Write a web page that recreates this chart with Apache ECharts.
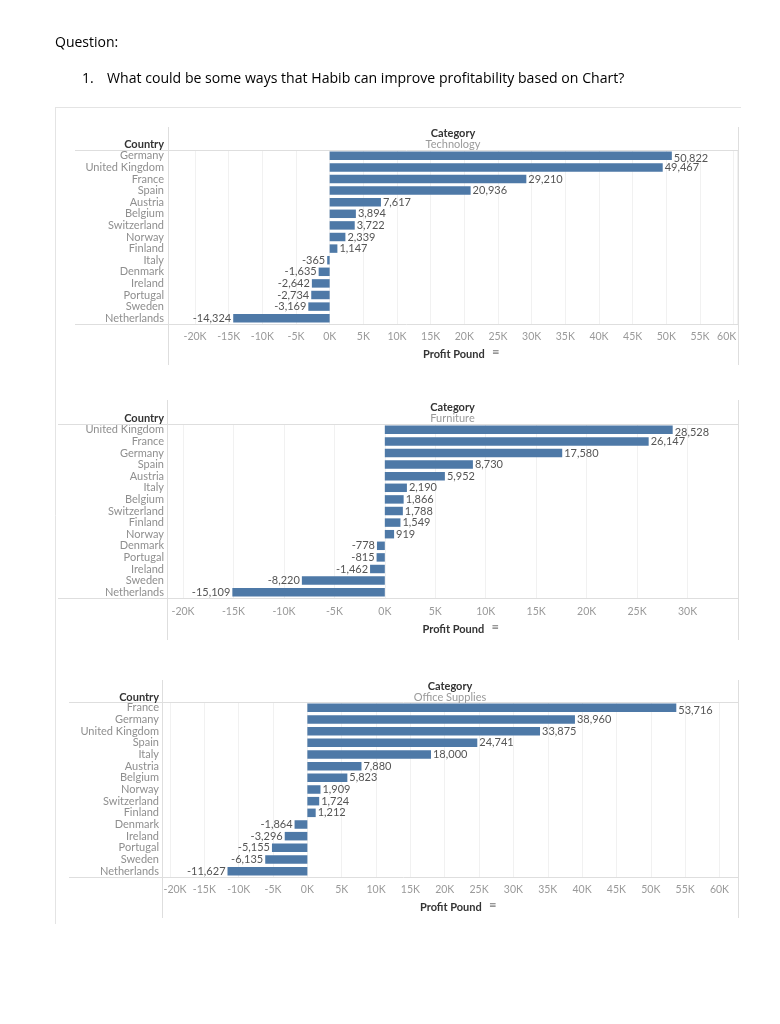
<!DOCTYPE html>
<html>
<head>
<meta charset="utf-8">
<script src="https://cdn.jsdelivr.net/npm/echarts@6/dist/echarts.min.js"></script>
<style>
html,body{margin:0;padding:0;background:#fff;}
#chart{width:780px;height:1024px;}
</style>
</head>
<body>
<div id="chart"></div>
<script>
// ---- data ----
var techCountries = ['Germany','United Kingdom','France','Spain','Austria','Belgium','Switzerland','Norway','Finland','Italy','Denmark','Ireland','Portugal','Sweden','Netherlands'];
var techProfit = [50822,49467,29210,20936,7617,3894,3722,2339,1147,-365,-1635,-2642,-2734,-3169,-14324];

var furnCountries = ['United Kingdom','France','Germany','Spain','Austria','Italy','Belgium','Switzerland','Finland','Norway','Denmark','Portugal','Ireland','Sweden','Netherlands'];
var furnProfit = [28528,26147,17580,8730,5952,2190,1866,1788,1549,919,-778,-815,-1462,-8220,-15109];

var offCountries = ['France','Germany','United Kingdom','Spain','Italy','Austria','Belgium','Norway','Switzerland','Finland','Denmark','Ireland','Portugal','Sweden','Netherlands'];
var offProfit = [53716,38960,33875,24741,18000,7880,5823,1909,1724,1212,-1864,-3296,-5155,-6135,-11627];

var categories = ['Technology','Furniture','Office Supplies'];
var tickStep = 5000;

// ---- layout ----
var FONT = 'Lato, "Open Sans", sans-serif';
var panels = [
  {countries: techCountries, values: techProfit, grid:{left:195, top:150, width:542, height:174}, min:-20000, max:60500, showMax:true,
   edgeShift:{'60000':'r'},
   frameTop:127, frameBottom:365, frameLeft:168, rowLineLeft:75, labelRight:164, catY:133, axisTitleY:354, xMargin:7},
  {countries: furnCountries, values: furnProfit, grid:{left:183, top:424, width:555, height:174}, min:-20000, max:35000, showMax:false,
   edgeShift:{},
   frameTop:400, frameBottom:640, frameLeft:167, rowLineLeft:58, labelRight:164, catY:407, axisTitleY:629, xMargin:8},
  {countries: offCountries, values: offProfit, grid:{left:170, top:702, width:568, height:175}, min:-20000, max:62700, showMax:true,
   edgeShift:{'-20000':'l'},
   frameTop:680, frameBottom:918, frameLeft:162, rowLineLeft:69, labelRight:159, catY:686, axisTitleY:907, xMargin:7}
];
var RIGHT = 738;
var lineColor = '#dedede';

function fmtNum(v){ return v.toLocaleString('en-US'); }

var grids = [], xAxes = [], yAxes = [], series = [], graphics = [];

function hline(x1,x2,y,c){ graphics.push({type:'line', silent:true, z:10, shape:{x1:x1,y1:y+0.5,x2:x2,y2:y+0.5}, style:{stroke:c||lineColor, lineWidth:1}}); }
function vline(x,y1,y2,c){ graphics.push({type:'line', silent:true, z:10, shape:{x1:x+0.5,y1:y1,x2:x+0.5,y2:y2}, style:{stroke:c||lineColor, lineWidth:1}}); }
function text(t,x,y,font,fill,align){ graphics.push({type:'text', silent:true, z:20, style:{text:t, x:x, y:y, font:font, fill:fill, textAlign:align||'left', textVerticalAlign:'middle'}}); }

// page text and outer box
text('Question:', 55, 43, '14px "Open Sans", sans-serif', '#000');
text('1.', 82, 79, '14px "Open Sans", sans-serif', '#000');
text('What could be some ways that Habib can improve profitability based on Chart?', 107, 79, '14.1px "Open Sans", sans-serif', '#000');
hline(55, 741, 107, '#e4e4e4');
vline(55, 107, 924, '#e4e4e4');

panels.forEach(function(p, i){
  grids.push({left:p.grid.left, top:p.grid.top, width:p.grid.width, height:p.grid.height, containLabel:false, outerBoundsMode:'none'});
  xAxes.push({
    type:'value', gridIndex:i, min:p.min, max:p.max, interval:tickStep,
    axisLine:{show:false}, axisTick:{show:false},
    splitLine:{show:true, lineStyle:{color:'#f1f1f1', width:1}},
    axisLabel:{color:'#9a9a9a', fontFamily:FONT, fontSize:10.5, margin:p.xMargin, showMaxLabel:p.showMax,
      rich:{
        r:{color:'#9a9a9a', fontFamily:FONT, fontSize:10.5, padding:[0,14,0,0]},
        l:{color:'#9a9a9a', fontFamily:FONT, fontSize:10.5, padding:[0,0,0,10]}
      },
      formatter:(function(shift){
        return function(v){
          if (v % tickStep !== 0) return '';
          var s = (v/1000) + 'K';
          var key = shift[String(v)];
          return key ? '{' + key + '|' + s + '}' : s;
        };
      })(p.edgeShift)}
  });
  yAxes.push({
    type:'category', gridIndex:i, data:p.countries, inverse:true,
    axisLine:{show:false}, axisTick:{show:false}, splitLine:{show:false},
    axisLabel:{interval:0, color:'#8f8f8f', fontFamily:FONT, fontSize:11, margin:p.grid.left - p.labelRight, align:'right'}
  });
  series.push({
    type:'bar', xAxisIndex:i, yAxisIndex:i, barCategoryGap:'27%',
    itemStyle:{color:'#4e79a7'},
    label:{show:true, color:'#555', fontFamily:FONT, fontSize:11, distance:2,
      formatter:function(d){ return fmtNum(d.value); }},
    data:p.values.map(function(v, k){
      var item = {value:v, label:{position: v < 0 ? 'left' : 'right'}};
      if (k === 0) item.label.offset = [0, 3];
      return item;
    })
  });
  // frame
  vline(p.frameLeft, p.frameTop, p.frameBottom);
  vline(RIGHT, p.frameTop, p.frameBottom);
  hline(p.rowLineLeft, RIGHT, p.grid.top);
  hline(p.rowLineLeft, RIGHT, p.grid.top + p.grid.height);
  // headers
  var cx = (p.frameLeft + RIGHT) / 2;
  text('Country', p.labelRight, p.catY + 11, 'bold 11px ' + FONT, '#333', 'right');
  text('Category', cx, p.catY, 'bold 11px ' + FONT, '#333', 'center');
  text(categories[i], cx, p.catY + 11, '11px ' + FONT, '#9a9a9a', 'center');
  text('Profit Pound', cx - 30, p.axisTitleY, 'bold 11px ' + FONT, '#333', 'left');
  text('\u2261', cx + 39, p.axisTitleY - 1, '9px "DejaVu Sans", sans-serif', '#777', 'left');
});

var chart = echarts.init(document.getElementById('chart'), null, {renderer:'canvas'});
chart.setOption({
  animation:false,
  backgroundColor:'#fff',
  grid:grids, xAxis:xAxes, yAxis:yAxes, series:series,
  graphic:graphics
});
</script>
</body>
</html>
